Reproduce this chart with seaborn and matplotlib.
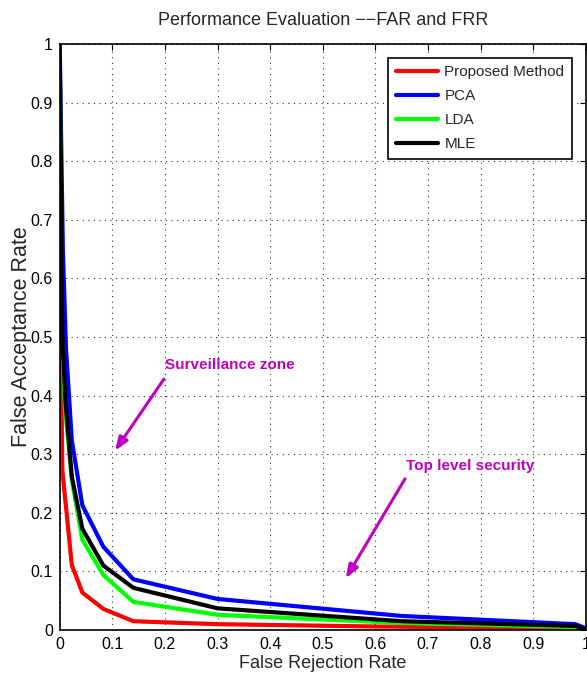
import matplotlib
matplotlib.use("Agg")
import matplotlib.pyplot as plt
import seaborn as sns
import pandas as pd

sns.set_style("white")
plt.rcParams['font.family'] = ['Liberation Sans', 'DejaVu Sans']

# ---- data ----
methods = ["Proposed Method", "PCA", "LDA", "MLE"]
colors = ["#ff0000", "#0000ff", "#00ff00", "#000000"]

frr_proposed = [0.0, 0.002, 0.005, 0.023, 0.043, 0.083, 0.140, 0.30, 0.60, 0.98, 1.0]
far_proposed = [1.0, 0.50, 0.273, 0.111, 0.064, 0.036, 0.015, 0.010, 0.006, 0.003, 0.0]

frr_pca = [0.0, 0.006, 0.012, 0.023, 0.043, 0.083, 0.140, 0.30, 0.65, 0.98, 1.0]
far_pca = [1.0, 0.65, 0.48, 0.324, 0.213, 0.142, 0.0865, 0.053, 0.024, 0.010, 0.003]

frr_lda = [0.0, 0.004, 0.010, 0.023, 0.043, 0.083, 0.140, 0.30, 0.65, 0.98, 1.0]
far_lda = [1.0, 0.50, 0.38, 0.256, 0.154, 0.094, 0.048, 0.026, 0.012, 0.005, 0.001]

frr_mle = [0.0, 0.005, 0.011, 0.023, 0.043, 0.083, 0.140, 0.30, 0.65, 0.98, 1.0]
far_mle = [1.0, 0.50, 0.39, 0.262, 0.173, 0.110, 0.072, 0.037, 0.015, 0.007, 0.001]

xticks = [0, 0.1, 0.2, 0.3, 0.4, 0.5, 0.6, 0.7, 0.8, 0.9, 1]
yticks = [0, 0.1, 0.2, 0.3, 0.4, 0.5, 0.6, 0.7, 0.8, 0.9, 1]
xtick_labels = ["0", "0.1", "0.2", "0.3", "0.4", "0.5", "0.6", "0.7", "0.8", "0.9", "1"]
ytick_labels = ["0", "0.1", "0.2", "0.3", "0.4", "0.5", "0.6", "0.7", "0.8", "0.9", "1"]

rows = []
for m, xs, ys in zip(methods,
                     [frr_proposed, frr_pca, frr_lda, frr_mle],
                     [far_proposed, far_pca, far_lda, far_mle]):
    for i, (x, y) in enumerate(zip(xs, ys)):
        rows.append({"method": m, "idx": i, "FRR": x, "FAR": y})
df = pd.DataFrame(rows)

fig = plt.figure(figsize=(5.87, 6.86), dpi=100)
ax = fig.add_axes([0.1017, 0.0816, 0.8963, 0.8543])

sns.lineplot(data=df, x="FRR", y="FAR", hue="method", hue_order=methods,
             palette=dict(zip(methods, colors)), sort=False, estimator=None,
             units="method", linewidth=3.0, ax=ax)

ax.set_xlim(0, 1)
ax.set_ylim(0, 1)
ax.set_xticks(xticks)
ax.set_xticklabels(xtick_labels)
ax.set_yticks(yticks)
ax.set_yticklabels(ytick_labels)
ax.tick_params(direction="in", length=4, width=0.8, top=True, right=True,
               labelsize=11.5, colors="black", pad=5)
for s in ax.spines.values():
    s.set_visible(True)
    s.set_color("black")
    s.set_linewidth(1.2)
ax.grid(True, linestyle=(0, (1, 4)), color="black", linewidth=0.8, alpha=0.8)

ax.set_title("Performance Evaluation \u2212\u2212FAR and FRR", fontsize=13, pad=14)
ax.set_xlabel("False Rejection Rate", fontsize=13, labelpad=2)
ax.set_ylabel("False Acceptance Rate", fontsize=15.5, labelpad=-1)

mag = "#c000c0"
ax.annotate("", xy=(0.102, 0.302), xytext=(0.201, 0.432),
            arrowprops=dict(arrowstyle="-|>,head_length=0.8,head_width=0.3",
                            color=mag, lw=2.2))
ax.text(0.201, 0.452, "Surveillance zone", color=mag, fontsize=11,
        fontweight="bold", va="center", ha="left")
ax.annotate("", xy=(0.541, 0.084), xytext=(0.659, 0.262),
            arrowprops=dict(arrowstyle="-|>,head_length=0.8,head_width=0.3",
                            color=mag, lw=2.2))
ax.text(0.659, 0.280, "Top level security", color=mag, fontsize=11,
        fontweight="bold", va="center", ha="left")

leg = ax.legend(loc="upper right", fontsize=11, frameon=True, fancybox=False,
                edgecolor="black", framealpha=1, handlelength=2.8,
                borderaxespad=0.9, labelspacing=0.65, handletextpad=0.4,
                borderpad=0.5)
leg.get_frame().set_linewidth(1.2)
for line in leg.get_lines():
    line.set_linewidth(3.0)

fig.savefig("out.png", dpi=100)
